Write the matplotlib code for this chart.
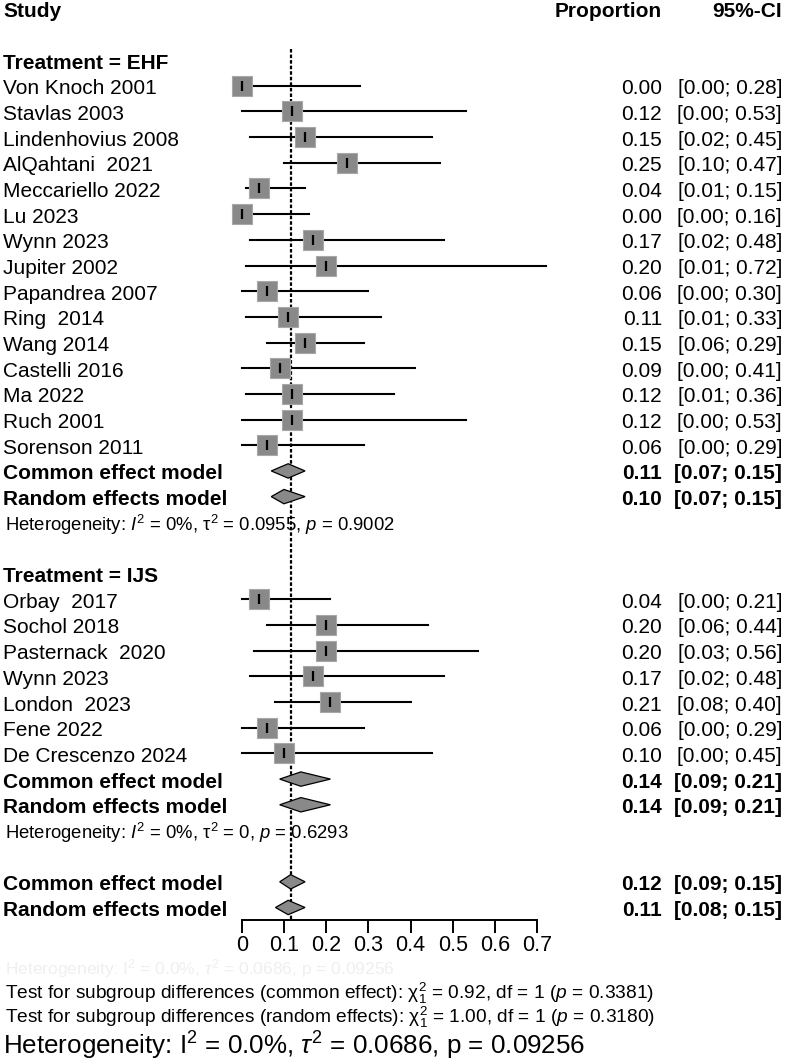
import matplotlib
matplotlib.use("Agg")
import matplotlib.pyplot as plt
from matplotlib.patches import Polygon
from matplotlib.transforms import blended_transform_factory

plt.rcParams['font.family'] = ['Liberation Sans', 'DejaVu Sans']
plt.rcParams['mathtext.fontset'] = 'custom'
plt.rcParams['mathtext.rm'] = 'Liberation Sans'
plt.rcParams['mathtext.it'] = 'Liberation Sans:italic'
plt.rcParams['mathtext.bf'] = 'Liberation Sans:bold'
plt.rcParams['mathtext.default'] = 'regular'

# data
ehf_studies = ["Von Knoch 2001", "Stavlas 2003", "Lindenhovius 2008", "AlQahtani  2021",
               "Meccariello 2022", "Lu 2023", "Wynn 2023", "Jupiter 2002", "Papandrea 2007",
               "Ring  2014", "Wang 2014", "Castelli 2016", "Ma 2022", "Ruch 2001", "Sorenson 2011"]
ehf_prop = [0.00, 0.12, 0.15, 0.25, 0.04, 0.00, 0.17, 0.20, 0.06, 0.11, 0.15, 0.09, 0.12, 0.12, 0.06]
ehf_lo = [0.00, 0.00, 0.02, 0.10, 0.01, 0.00, 0.02, 0.01, 0.00, 0.01, 0.06, 0.00, 0.01, 0.00, 0.00]
ehf_hi = [0.28, 0.53, 0.45, 0.47, 0.15, 0.16, 0.48, 0.72, 0.30, 0.33, 0.29, 0.41, 0.36, 0.53, 0.29]

ijs_studies = ["Orbay  2017", "Sochol 2018", "Pasternack  2020", "Wynn 2023", "London  2023",
               "Fene 2022", "De Crescenzo 2024"]
ijs_prop = [0.04, 0.20, 0.20, 0.17, 0.21, 0.06, 0.10]
ijs_lo = [0.00, 0.06, 0.03, 0.02, 0.08, 0.00, 0.00]
ijs_hi = [0.21, 0.44, 0.56, 0.48, 0.40, 0.29, 0.45]

# pooled estimates: (estimate, lower, upper)
ehf_common = (0.11, 0.07, 0.15)
ehf_random = (0.10, 0.07, 0.15)
ijs_common = (0.14, 0.09, 0.21)
ijs_random = (0.14, 0.09, 0.21)
all_common = (0.116, 0.09, 0.15)
all_random = (0.11, 0.08, 0.15)

ehf_het = r"Heterogeneity: $\mathit{I}^{2}$ = 0%, $\tau^{2}$ = 0.0955, $\mathit{p}$ = 0.9002"
ijs_het = r"Heterogeneity: $\mathit{I}^{2}$ = 0%, $\tau^{2}$ = 0, $\mathit{p}$ = 0.6293"
test_common = r"Test for subgroup differences (common effect): $\chi^{2}_{1}$ = 0.92, df = 1 ($\mathit{p}$ = 0.3381)"
test_random = r"Test for subgroup differences (random effects): $\chi^{2}_{1}$ = 1.00, df = 1 ($\mathit{p}$ = 0.3180)"
overall_het = r"Heterogeneity: I$^{2}$ = 0.0%, $\mathit{\tau}^{2}$ = 0.0686, p = 0.09256"

tick_values = [0, 0.1, 0.2, 0.3, 0.4, 0.5, 0.6, 0.7]
tick_labels = ["0", "0.1", "0.2", "0.3", "0.4", "0.5", "0.6", "0.7"]

# layout (pixels)
W, H = 786, 1063
ROW0, ROW_H = 8.7, 25.68
AX_L, AX_R, AX_BOT = 241.7, 537.3, 920
FS = 15
BOX = '#898989'

fig = plt.figure(figsize=(W / 100, H / 100), dpi=100)
ax = fig.add_axes([AX_L / W, (H - AX_BOT) / H, (AX_R - AX_L) / W, AX_BOT / H])
ax.set_xlim(0, 0.7)
ax.set_ylim((AX_BOT - ROW0) / ROW_H, -ROW0 / ROW_H)
for s in ['top', 'right', 'left']:
    ax.spines[s].set_visible(False)
ax.spines['bottom'].set_linewidth(1.4)
ax.set_xticks(tick_values)
ax.set_xticklabels(tick_labels)
ax.tick_params(axis='x', length=9, width=1.4, labelsize=15.5, pad=1.5)
ax.tick_params(axis='y', left=False, labelleft=False)

tr = blended_transform_factory(fig.transFigure, ax.transData)
BASE = 0.33  # baseline offset in rows


def label(px, row, s, ha='left', bold=False, size=FS, color='black'):
    ax.text(px / W, row + BASE, s, transform=tr, ha=ha, va='baseline',
            fontsize=size, fontweight='bold' if bold else 'normal', color=color)


def study(row, name, p, lo, hi):
    ax.plot([lo, hi], [row, row], color='black', lw=1.5, clip_on=False, zorder=2)
    ax.scatter([p], [row], marker='s', s=200, color=BOX, edgecolors='#a8a8a8',
               linewidths=0.8, clip_on=False, zorder=3)
    ax.plot([p], [row], marker='|', ms=6.5, mew=1.6, color='black', clip_on=False, zorder=4)
    label(3, row, name)
    label(662, row, f"{p:.2f}", ha='right')
    label(782, row, f"[{lo:.2f}; {hi:.2f}]", ha='right')


def pooled(row, name, est, h=0.28):
    e, lo, hi = est
    ax.add_patch(Polygon([(lo, row), (e, row - h), (hi, row), (e, row + h)], closed=True,
                         facecolor=BOX, edgecolor='black', lw=0.9, zorder=3, clip_on=False))
    label(3, row, name, bold=True)
    label(662, row, f"{e:.2f}", ha='right', bold=True)
    label(782, row, f"[{lo:.2f}; {hi:.2f}]", ha='right', bold=True)


# header
label(3, 0, "Study", bold=True)
label(662, 0, "Proportion", ha='right', bold=True)
label(782, 0, "95%-CI", ha='right', bold=True)

# reference line at the overall common estimate
ax.plot([all_common[0]] * 2, [1.55, (AX_BOT - ROW0) / ROW_H], color='black', lw=1.6,
        ls=(0, (1.6, 0.9)), zorder=1)

label(3, 2, "Treatment = EHF", bold=True)
r = 3
for name, p, lo, hi in zip(ehf_studies, ehf_prop, ehf_lo, ehf_hi):
    study(r, name, p, lo, hi)
    r += 1
pooled(r, "Common effect model", ehf_common)
pooled(r + 1, "Random effects model", ehf_random)
label(5, r + 2, ehf_het, size=13.3)

r += 4
label(3, r, "Treatment = IJS", bold=True)
r += 1
for name, p, lo, hi in zip(ijs_studies, ijs_prop, ijs_lo, ijs_hi):
    study(r, name, p, lo, hi)
    r += 1
pooled(r, "Common effect model", ijs_common)
pooled(r + 1, "Random effects model", ijs_random)
label(5, r + 2, ijs_het, size=13.3)

r += 4
pooled(r, "Common effect model", all_common)
pooled(r + 1, "Random effects model", all_random)

# footnotes
fig.text(5 / W, 1 - 974 / H, overall_het, fontsize=12.5, color='#efefef', va='baseline')
fig.text(5 / W, 1 - 999 / H, test_common, fontsize=13.8, va='baseline')
fig.text(5 / W, 1 - 1023 / H, test_random, fontsize=13.8, va='baseline')
fig.text(3 / W, 1 - 1055 / H, overall_het, fontsize=18.7, va='baseline')

fig.savefig("out.png", dpi=100)
